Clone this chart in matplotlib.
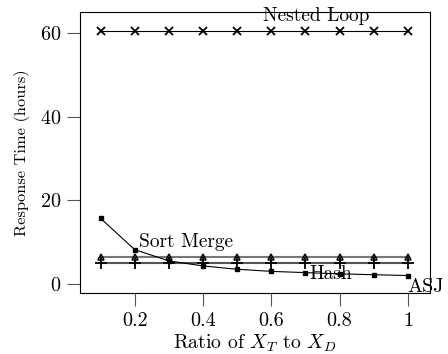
import numpy as np
import matplotlib
matplotlib.use("Agg")
import matplotlib.pyplot as plt

plt.rcParams['font.family'] = 'serif'
plt.rcParams['font.serif'] = ['cmr10']
plt.rcParams['mathtext.fontset'] = 'cm'
plt.rcParams['axes.formatter.use_mathtext'] = True

# data
ratio = [0.1, 0.2, 0.3, 0.4, 0.5, 0.6, 0.7, 0.8, 0.9, 1.0]
nested_loop = [60.5] * 10
sort_merge = [6.5] * 10
hash_join = [5.0] * 10
asj = [15.7, 8.2, 5.5, 4.3, 3.5, 3.0, 2.7, 2.4, 2.2, 2.0]

fig = plt.figure(figsize=(4.48, 3.54), dpi=100)
ax = fig.add_axes([0.1786, 0.172, 0.7814, 0.794])

ax.plot(ratio, nested_loop, color='black', lw=0.8, marker='x', ms=6, mew=1.3)
ax.plot(ratio, sort_merge, color='#777777', lw=1.5, marker='^', ms=5,
        mfc='none', mec='black', mew=1.1)
ax.plot(ratio, hash_join, color='#555555', lw=1.5, marker='+', ms=8,
        mec='black', mew=1.3)
ax.plot(ratio, asj, color='black', lw=0.8, marker='s', ms=3)

ax.text(0.732, 64.1, 'Nested Loop', ha='center', va='center', fontsize=14)
ax.text(0.351, 10, 'Sort Merge', ha='center', va='center', fontsize=14)
ax.text(0.775, 2.4, 'Hash', ha='center', va='center', fontsize=14)
ax.text(1.053, -0.7, 'ASJ', ha='center', va='center', fontsize=14.5, clip_on=False)

ax.set_xlim(0.04, 1.065)
ax.set_ylim(-2.2, 65)
ax.set_xticks([0.2, 0.4, 0.6, 0.8, 1.0])
ax.set_xticklabels(['0.2', '0.4', '0.6', '0.8', '1'])
ax.set_yticks([0, 20, 40, 60])
ax.tick_params(direction='out', length=9.5, width=0.8, pad=4, labelsize=14.5)
ax.tick_params(color='#555555')
ax.set_xlabel('Ratio of $X_T$ to $X_D$', fontsize=14.3, labelpad=2)
ax.set_ylabel('Response Time (hours)', fontsize=11.8, labelpad=7)

fig.savefig('out.png', dpi=100)
